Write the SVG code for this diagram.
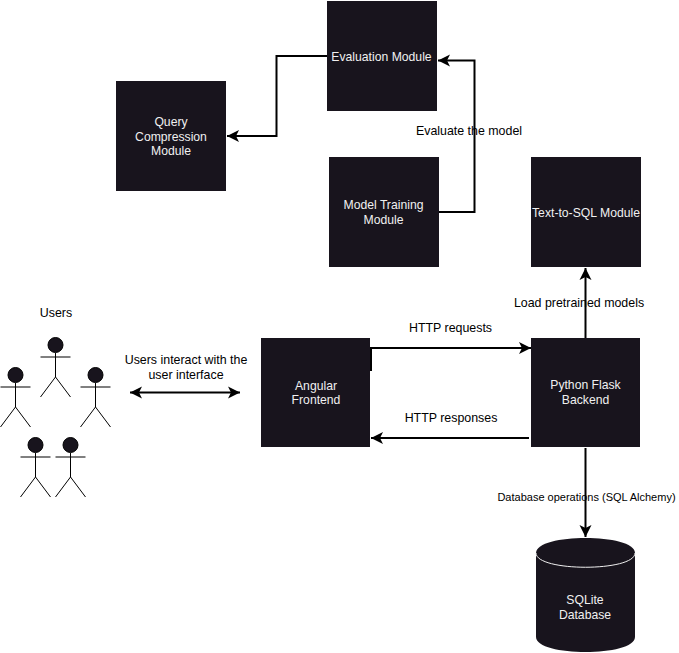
<svg xmlns="http://www.w3.org/2000/svg" width="679" height="653" viewBox="0 0 679 653">
<style>
text{font-family:"Liberation Sans",Arial,sans-serif;font-size:12.2px;text-anchor:middle}
.n{fill:#18141d}
.w{fill:#f0f0f0}
.k{fill:#000;font-size:12.4px}
.c{fill:none;stroke:#000;stroke-width:2}
.a{fill:#18141d;stroke:#000;stroke-width:1}
.a2{fill:none;stroke:#000;stroke-width:1}
</style>
<defs>
<marker id="ah" markerUnits="userSpaceOnUse" markerWidth="14" markerHeight="14" refX="12" refY="7" orient="auto-start-reverse"><path d="M0 1L12 7L0 13L3 7Z" fill="#000"/></marker>
<symbol id="actor" overflow="visible"><circle class="a" cx="0" cy="0" r="7.500"/><path class="a2" d="M0 8V32M-15 12H15M0 32L-15 52M0 32L15 52"/></symbol>
</defs>
<rect width="679" height="653" fill="#fff"/>
<g id="connectors">
<path class="c" d="M327 56H276.500V136H227" marker-end="url(#ah)"/>
<path class="c" d="M439 212H474.500V60.500H438" marker-end="url(#ah)"/>
<path class="c" d="M585.500 338V268" marker-end="url(#ah)"/>
<path class="c" d="M371 348H531" marker-end="url(#ah)"/>
<path class="c" d="M371 347V371"/>
<path class="c" d="M529 438H371" marker-end="url(#ah)"/>
<path class="c" d="M585.500 448V537" marker-end="url(#ah)"/>
<path class="c" d="M130 392.500H240" marker-start="url(#ah)" marker-end="url(#ah)"/>
</g>
<g id="evaluation"><rect class="n" x="327" y="1" width="110" height="110"/><text class="w" x="381.500" y="61">Evaluation Module</text></g>
<g id="query"><rect class="n" x="116" y="81" width="110" height="110"/><text class="w" x="171" y="126">Query</text><text class="w" x="171" y="141">Compression</text><text class="w" x="171" y="155">Module</text></g>
<g id="training"><rect class="n" x="329" y="157" width="110" height="110"/><text class="w" x="383.500" y="209">Model Training</text><text class="w" x="383.500" y="224">Module</text></g>
<g id="texttosql"><rect class="n" x="531" y="157" width="110" height="110"/><text class="w" x="586" y="217">Text-to-SQL Module</text></g>
<g id="angular"><rect class="n" x="261" y="338" width="109" height="109"/><text class="w" x="316" y="390">Angular</text><text class="w" x="316" y="404">Frontend</text></g>
<g id="flask"><rect class="n" x="531" y="338" width="109" height="109"/><text class="w" x="585.500" y="389">Python Flask</text><text class="w" x="585.500" y="404">Backend</text></g>
<g id="sqlite"><path class="n" d="M536 553C536 533 635 533 635 553V637C635 657 536 657 536 637Z"/><path fill="none" stroke="#f0f0f0" d="M536 553C536 572 635 572 635 553"/><text class="w" x="585" y="604">SQLite</text><text class="w" x="585" y="619">Database</text></g>
<g id="users">
<use href="#actor" x="55.500" y="345"/><use href="#actor" x="15.500" y="375"/><use href="#actor" x="95.500" y="375"/><use href="#actor" x="35.500" y="445"/><use href="#actor" x="70.500" y="445"/>
</g>
<g id="labels">
<text class="k" x="56" y="317">Users</text>
<text class="k" x="186" y="364">Users interact with the</text>
<text class="k" x="186" y="379">user interface</text>
<text class="k" x="450.500" y="332">HTTP requests</text>
<text class="k" x="451" y="422">HTTP responses</text>
<text class="k" x="579" y="307">Load pretrained models</text>
<text class="k" x="469" y="135">Evaluate the model</text>
<text class="k" x="586.500" y="501" style="font-size:11px">Database operations (SQL Alchemy)</text>
</g>
</svg>
